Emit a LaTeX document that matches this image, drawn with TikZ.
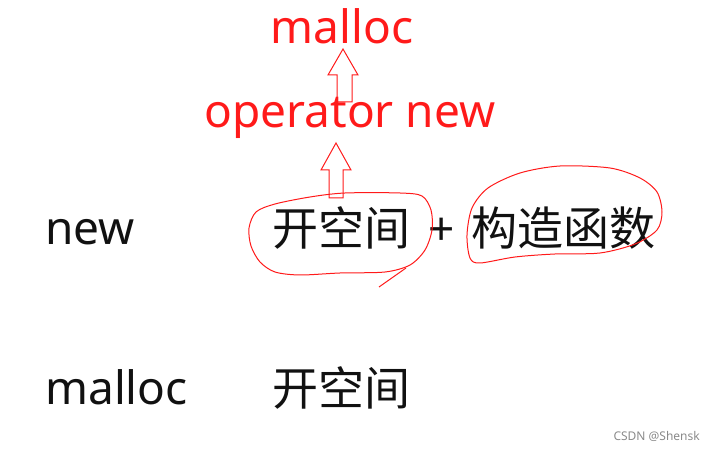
\documentclass[tikz,border=0pt]{standalone}
\usepackage{fontspec}
\setmainfont{Noto Sans}
\newfontfamily\cjk{Noto Sans CJK SC}
\usepackage{tikz}
\usetikzlibrary{positioning}
\definecolor{MarkRed}{HTML}{FF1A1A}
\definecolor{InkBlack}{HTML}{111111}
\definecolor{MarkGray}{HTML}{8A8A8A}

\tikzset{
  bigtxt/.style={inner sep=0pt, anchor=base, font=\fontsize{46}{46}\selectfont},
  redtxt/.style={bigtxt, text=MarkRed},
  blacktxt/.style={bigtxt, text=InkBlack},
  blockarrow/.style={draw=MarkRed, line width=1pt, line join=miter},
  scribble/.style={draw=MarkRed, line width=1pt},
}

\begin{document}
\begin{tikzpicture}[x=1pt, y=-1pt]
    \useasboundingbox (0,0) rectangle (705,449);

    % Call chain (red)
    \node[redtxt] (mallocTop) at (342,44) {malloc};
    \node[redtxt] (opNew) at (350,128) {operator new};

    % Row: new
    \node[blacktxt, anchor=base west] (newKw) at (45,245) {new};
    \node[blacktxt] (allocSpace) at (341,246) {\cjk 开空间};
    \node[blacktxt] (plusSign) at (442,246) {+};
    \node[blacktxt] (ctorCall) at (563,246) {\cjk 构造函数};

    % Row: malloc
    \node[blacktxt, anchor=base west] (mallocKw) at (45,405) {malloc};
    \node[blacktxt] (allocSpaceB) at (341,406) {\cjk 开空间};

    % Hollow arrows
    \draw[blockarrow] (337,102) -- (337,75) -- (328,75) -- (343,49)
        -- (358,75) -- (352,75) -- (352,102) -- cycle;
    \draw[blockarrow] (329,198) -- (329,170) -- (321,170) -- (336,143)
        -- (351,170) -- (343,170) -- (343,198) -- cycle;

    % Freehand loops
    \draw[scribble] plot[smooth cycle, tension=0.5] coordinates {
        (249,228) (256,212) (275,204) (310,197) (345,193) (400,193)
        (422,196) (431,210) (432,230) (425,250) (410,265) (385,272)
        (340,273) (300,275) (275,272) (260,262) (251,246)};
    \draw[scribble] (406,268) -- (379,287);
    \draw[scribble] plot[smooth cycle, tension=0.5] coordinates {
        (470,258) (467,235) (472,208) (488,188) (520,173) (560,166)
        (610,168) (640,178) (657,192) (662,212) (657,230) (635,244)
        (600,253) (555,254) (515,257) (480,263)};

    % Watermark
    \node[inner sep=0pt, anchor=base east, font=\fontsize{12}{12}\selectfont,
          text=MarkGray] (watermark) at (700,440) {CSDN @Shensk};
\end{tikzpicture}
\end{document}
